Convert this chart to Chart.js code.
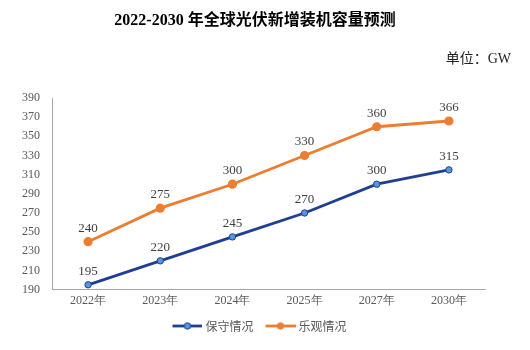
<!DOCTYPE html>
<html>
<head>
<meta charset="utf-8">
<script src="https://cdn.jsdelivr.net/npm/chart.js@4"></script>
<style>
  html, body { margin: 0; padding: 0; background: #fff; }
  #wrap { position: relative; width: 530px; height: 350px; }
  #title { position: absolute; left: 0; width: 510px; top: 6px; text-align: center;
    font: bold 16px "Liberation Serif", "Noto Sans CJK SC", serif; color: #000; }
  #unit { position: absolute; right: 19px; top: 47px;
    font: 14px "Liberation Serif", "Noto Sans CJK SC", serif; color: #222; }
</style>
</head>
<body>
<div id="wrap">
  <div id="title">2022-2030 年全球光伏新增装机容量预测</div>
  <div id="unit">单位：GW</div>
  <canvas id="chart" width="530" height="350"></canvas>
</div>
<script>
const years = ["2022年", "2023年", "2024年", "2025年", "2027年", "2030年"];
const conservative = [195, 220, 245, 270, 300, 315];
const optimistic = [240, 275, 300, 330, 360, 366];
const seriesNames = ["保守情况", "乐观情况"];

const BLUE = "#1f3f91";
const BLUE_FILL = "#5596dc";
const ORANGE = "#ed7d31";
const SERIF = '"Liberation Serif", "Times New Roman", serif';

// legend marker: short line with a dot, left part of the canvas left blank as spacing
const legendIcon = (line, fill) => {
  const c = document.createElement("canvas");
  c.width = 37;
  c.height = 10;
  const ctx = c.getContext("2d");
  ctx.strokeStyle = line;
  ctx.lineWidth = 2.8;
  ctx.beginPath();
  ctx.moveTo(7, 5);
  ctx.lineTo(37, 5);
  ctx.stroke();
  ctx.fillStyle = fill;
  ctx.lineWidth = 1;
  ctx.beginPath();
  ctx.arc(22, 5, 3.2, 0, Math.PI * 2);
  ctx.fill();
  ctx.stroke();
  return c;
};

const valueLabels = {
  id: "valueLabels",
  afterDatasetsDraw(chart) {
    const ctx = chart.ctx;
    ctx.save();
    ctx.font = "13px " + SERIF;
    ctx.fillStyle = "#404040";
    ctx.textAlign = "center";
    ctx.textBaseline = "bottom";
    chart.data.datasets.forEach((ds, i) => {
      chart.getDatasetMeta(i).data.forEach((pt, j) => {
        ctx.fillText(ds.data[j], pt.x, pt.y - 7);
      });
    });
    ctx.restore();
  },
};

const shiftLegend = {
  id: "shiftLegend",
  afterLayout(chart) {
    chart.legend.left += 10;
    chart.legend.right += 10;
  },
};

new Chart(document.getElementById("chart"), {
  type: "line",
  data: {
    labels: years,
    datasets: [
      {
        label: seriesNames[0],
        data: conservative,
        borderColor: BLUE,
        backgroundColor: BLUE_FILL,
        pointBackgroundColor: BLUE_FILL,
        pointBorderColor: BLUE,
        pointBorderWidth: 1,
        pointRadius: 3.2,
        borderWidth: 2.8,
      },
      {
        label: seriesNames[1],
        data: optimistic,
        borderColor: ORANGE,
        backgroundColor: ORANGE,
        pointBackgroundColor: ORANGE,
        pointBorderColor: ORANGE,
        pointRadius: 3.2,
        borderWidth: 2.8,
      },
    ],
  },
  options: {
    responsive: false,
    animation: false,
    layout: { padding: { top: 98, left: 10, right: 45, bottom: 8 } },
    plugins: {
      tooltip: { enabled: false },
      legend: {
        position: "bottom",
        labels: {
          usePointStyle: true,
          pointStyleWidth: 31,
          padding: 8,
          color: "#595959",
          font: { size: 12, family: '"Noto Sans CJK SC", sans-serif' },
          generateLabels: (chart) =>
            chart.data.datasets.map((ds, i) => ({
              text: ds.label,
              datasetIndex: i,
              fontColor: "#595959",
              pointStyle: legendIcon(ds.borderColor, ds.pointBackgroundColor),
              strokeStyle: "transparent",
              fillStyle: "transparent",
              lineWidth: 0,
            })),
        },
      },
    },
    scales: {
      x: {
        offset: true,
        grid: { display: false, drawTicks: false },
        border: { color: "#a6a6a6" },
        ticks: { color: "#595959", padding: 4, font: { size: 12, family: SERIF } },
      },
      y: {
        min: 190,
        max: 390,
        grid: { display: false, drawTicks: false },
        border: { color: "#a6a6a6" },
        ticks: { stepSize: 20, color: "#595959", padding: 12, font: { size: 12, family: SERIF } },
      },
    },
  },
  plugins: [valueLabels, shiftLegend],
});
</script>
</body>
</html>
